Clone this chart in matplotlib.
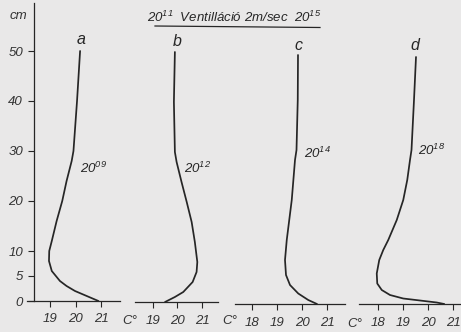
import matplotlib
matplotlib.use("Agg")
import matplotlib.pyplot as plt
from matplotlib.lines import Line2D

plt.rcParams["font.family"] = ["Liberation Sans Narrow", "Liberation Sans", "DejaVu Sans"]
plt.rcParams["font.style"] = "italic"
plt.rcParams["mathtext.fontset"] = "custom"
plt.rcParams["mathtext.it"] = "Liberation Sans:italic"
plt.rcParams["mathtext.rm"] = "Liberation Sans:italic"
plt.rcParams["mathtext.default"] = "it"

INK = "#262626"
PAPER = "#e9e8e8"
W, H = 461, 332

# depth (cm) and temperature (C)
DEPTH_A = [50, 40, 30, 28, 24, 20, 16, 12, 10, 8, 6, 4, 3, 2, 1, 0]
TEMP_A = [20.18, 20.06, 19.92, 19.85, 19.65, 19.48, 19.26, 19.07, 18.97, 18.96,
          19.07, 19.39, 19.65, 19.98, 20.44, 20.9]

DEPTH_B = [50, 40, 30, 28, 24, 20, 16, 12, 8, 6, 4, 2, 1, 0]
TEMP_B = [19.9, 19.86, 19.9, 19.97, 20.17, 20.38, 20.58, 20.71, 20.81, 20.78,
          20.62, 20.24, 19.9, 19.5]

DEPTH_C = [49.8, 40.8, 30.8, 28.8, 20.8, 16.8, 12.8, 8.8, 5.8, 3.8, 2.1, 0.8, 0]
TEMP_C = [19.84, 19.83, 19.78, 19.72, 19.59, 19.49, 19.39, 19.32, 19.36, 19.52,
          19.85, 20.25, 20.6]

DEPTH_D = [49.4, 40.8, 30.8, 28.8, 24.8, 20.8, 16.8, 12.8, 10.8, 8.8, 6.1, 4.1,
           2.8, 1.8, 1.1, 0.7, 0.3, 0]
TEMP_D = [19.52, 19.44, 19.34, 19.28, 19.17, 19.01, 18.75, 18.41, 18.21, 18.05,
          17.95, 17.97, 18.15, 18.48, 19.01, 19.68, 20.35, 20.65]

LETTERS = ["a", "b", "c", "d"]
TIMES = ["09", "12", "14", "18"]
Y_TICKS = [0, 5, 10, 20, 30, 40, 50]
X_TICKS = [[19, 20, 21], [19, 20, 21], [18, 19, 20, 21], [18, 19, 20, 21]]

# layout in pixels: left, right, bottom, first tick px, last tick px
LAYOUT = [
    (27, 120, 301, 50.0, 101.0),
    (135, 218, 302, 152.7, 202.0),
    (235, 345, 304, 252.0, 327.0),
    (359, 470, 304, 378.0, 453.0),
]
LETTER_POS = [(81, 40), (177, 42), (298, 46), (415, 46)]
TIME_POS = [(80, 168), (184, 168), (304, 153), (418, 150)]
UNIT_POS = [(122, 321), (222, 321), (347, 324)]
YMAX = 59.6
PX_PER_CM = 5.0


def fx(px):
    return px / W


def fy(py):
    return 1 - py / H


def main():
    fig = plt.figure(figsize=(W / 100, H / 100), dpi=100)
    fig.patch.set_facecolor(PAPER)

    profiles = [(TEMP_A, DEPTH_A), (TEMP_B, DEPTH_B), (TEMP_C, DEPTH_C), (TEMP_D, DEPTH_D)]
    for i, (temps, depths) in enumerate(profiles):
        left, right, bottom, p0, p1 = LAYOUT[i]
        ticks = X_TICKS[i]
        scale = (p1 - p0) / (ticks[-1] - ticks[0])
        xlo = ticks[0] + (left - p0) / scale
        xhi = ticks[0] + (right - p0) / scale
        height = YMAX * PX_PER_CM
        ax = fig.add_axes([fx(left), fy(bottom), (right - left) / W, height / H])
        ax.set_facecolor("none")
        ax.set_xlim(xlo, xhi)
        ax.set_ylim(0, YMAX)
        ax.plot(temps, depths, color=INK, lw=1.25, clip_on=False,
                solid_capstyle="round", solid_joinstyle="round")

        for side in ["top", "right"]:
            ax.spines[side].set_visible(False)
        ax.spines["bottom"].set_color(INK)
        ax.spines["bottom"].set_linewidth(0.9)
        ax.set_xticks(ticks)
        ax.set_xticklabels([str(t) for t in ticks])
        ax.tick_params(axis="x", direction="out", length=4, width=0.8, color=INK,
                       pad=5, labelsize=9.5, labelcolor="#333333")

        if i == 0:
            ax.spines["left"].set_position(("axes", (33.5 - left) / (right - left)))
            ax.spines["left"].set_color(INK)
            ax.spines["left"].set_linewidth(0.9)
            ax.set_yticks(Y_TICKS)
            ax.tick_params(axis="y", direction="out", length=4, width=0.8, color=INK,
                           pad=3.5, labelsize=9.5, labelcolor="#333333")
        else:
            ax.spines["left"].set_visible(False)
            ax.set_yticks([])

        lx, ly = LETTER_POS[i]
        fig.text(fx(lx), fy(ly), LETTERS[i], ha="center", va="center",
                 fontsize=11.5, color=INK)
        tx, ty = TIME_POS[i]
        fig.text(fx(tx), fy(ty), "20$^{" + TIMES[i] + "}$", ha="left", va="center",
                 fontsize=9.5, color=INK)

    for ux, uy in UNIT_POS:
        fig.text(fx(ux), fy(uy), "C°", ha="left", va="center", fontsize=9.5, color="#333333")

    fig.text(fx(18), fy(16), "cm", ha="center", va="center", fontsize=9.5, color="#333333")

    fig.text(fx(147), fy(17), "20$^{11}$  Ventilláció 2m/sec  20$^{15}$",
             ha="left", va="center", fontsize=9.5, color=INK)
    fig.add_artist(Line2D([fx(155), fx(320)], [fy(26), fy(27.5)], color=INK, lw=0.9))

    fig.savefig("out.png", dpi=100, facecolor=PAPER)


if __name__ == "__main__":
    main()
